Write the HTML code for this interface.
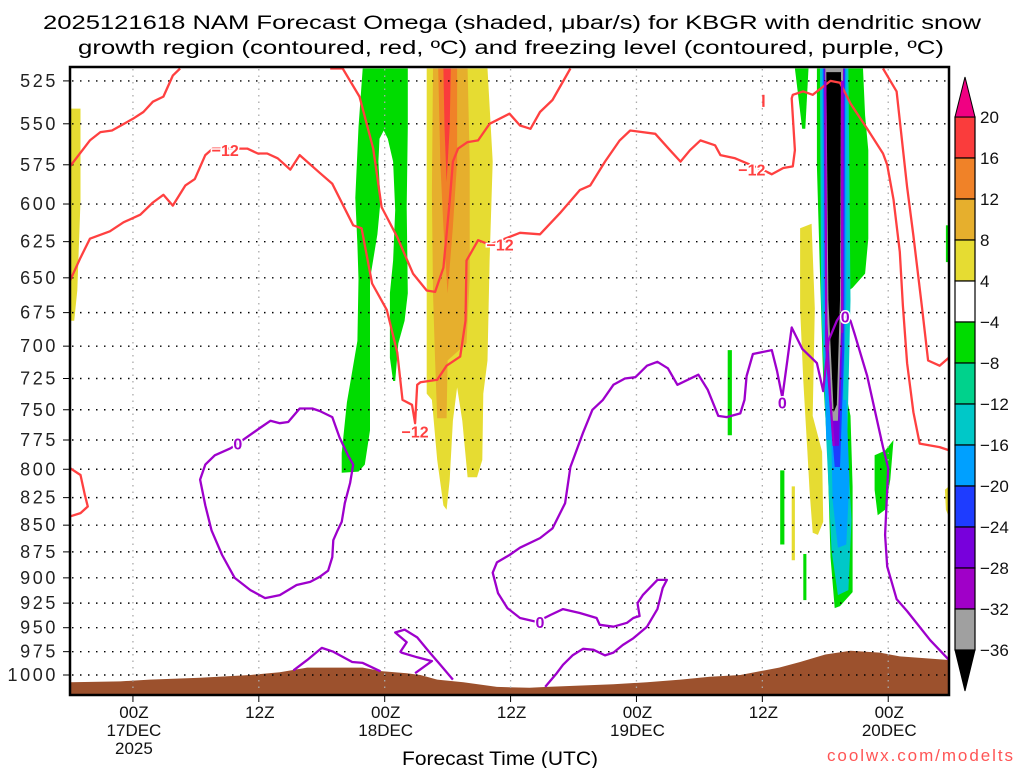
<!DOCTYPE html>
<html><head><meta charset="utf-8"><style>
html,body{margin:0;padding:0;background:#fff;}
svg{display:block;font-family:"Liberation Sans",sans-serif;}
</style></head><body>
<svg id="chart" width="1024" height="768" viewBox="0 0 1024 768" xmlns="http://www.w3.org/2000/svg">
<text x="512" y="29" text-anchor="middle" font-size="19" textLength="938" lengthAdjust="spacingAndGlyphs">2025121618 NAM Forecast Omega (shaded, μbar/s) for KBGR with dendritic snow</text>
<text x="511" y="54" text-anchor="middle" font-size="19" textLength="866" lengthAdjust="spacingAndGlyphs">growth region (contoured, red, ºC) and freezing level (contoured, purple, ºC)</text>
<defs><clipPath id="plotclip"><rect x="70" y="67" width="879" height="628"/></clipPath></defs>
<g id="shade" clip-path="url(#plotclip)"></g>
<g id="terrain" clip-path="url(#plotclip)"></g>
<g id="grid"></g>
<g id="contours" clip-path="url(#plotclip)"></g>
<g id="axes"></g>
<g id="cbar"></g>
<text x="500" y="765" text-anchor="middle" font-size="19" textLength="196" lengthAdjust="spacingAndGlyphs">Forecast Time (UTC)</text>
<text x="1013" y="761" text-anchor="end" font-size="17" fill="#ff5555" textLength="186" lengthAdjust="spacing">coolwx.com/modelts</text>
</svg>
<script>
// ---- axis data ----
const pressureLevels = [525,550,575,600,625,650,675,700,725,750,775,800,825,850,875,900,925,950,975,1000];
const timeTickHours = [6,18,30,42,54,66,78];
const timeTickLine1 = ["00Z","12Z","00Z","12Z","00Z","12Z","00Z"];
const timeTickLine2 = ["17DEC","","18DEC","","19DEC","","20DEC"];
const timeTickLine3 = ["2025","","","","","",""];
const cbarValues = [20,16,12,8,4,-4,-8,-12,-16,-20,-24,-28,-32,-36];
const cbarColors = ["#fa3c3c","#f08228","#e6af2d","#e6dc32","#ffffff","#00dc00","#00d28c","#00c8c8","#00a0ff","#1e3cff","#7800dc","#a000c8","#a0a0a0"];

// ---- surface (terrain) pressure by hour ----
const sfcHours = [0,4.8,7.6,12.4,17.2,20,22.6,27.9,29.8,32.1,33.4,35,37.5,40.7,43.8,45.5,51.8,55,58.2,61,63.9,67.6,69.6,72,74.4,77.2,79.1,84];
const sfcPres  = [1008,1007,1005,1003,1000,997,992,992,996,998,1000,1005,1008,1013,1014,1013,1010,1008,1005,1002,1000,992,986,978,974,976,980,984];

// ---- shaded omega regions [hour, hPa] ----
const yellowLeft = [[0,541],[1,541],[1,598],[0.7,659],[0.4,681],[0,681]];
const yellowMid = [[34,518],[39.8,518],[40.3,573],[40,638],[39.8,711],[39.4,737],[39.3,792],[38.8,807],[37.9,807],[37.4,759],[36.9,732],[36.5,759],[36.2,809],[35.9,836],[35.6,832],[35,792],[34.5,742],[34,737],[34,598]];
const goldMid = [[34.6,518],[37.9,518],[38.1,573],[38.1,650],[37.8,698],[36,711],[35.9,757],[35,757],[34.8,711],[34.6,661],[34.5,593]];
const orangeMid = [[35.1,518],[36.9,518],[36.9,573],[36.5,615],[36,661],[35.6,615],[35.3,573]];
const redMid = [[35.6,518],[36.3,518],[36.2,552],[35.9,586],[35.7,552]];
const yellowRight = [[69.6,616],[70.7,613],[71,672],[70.8,755],[71.7,785],[71.8,847],[71.3,859],[70.8,857],[70.5,818],[70.3,785],[69.9,727],[69.6,672]];
const yellowSliver = [[68.8,815],[69.1,815],[69.1,883],[68.8,883]];
const yellowEdge = [[83.4,818],[83.9,814],[83.9,845],[83.5,836]];
const greenMid = [[27.9,518],[32.2,518],[32.2,552],[32.1,602],[32.2,661],[31.9,681],[31.3,698],[31,727],[30.8,727],[30.5,709],[30.5,661],[30.8,638],[31,604],[30.8,573],[30.3,559],[29.9,554],[29.5,559],[29.4,573],[29.6,598],[29.3,620],[28.6,651],[28.6,711],[28.6,767],[28.1,796],[27.5,802],[25.9,803],[25.9,786],[26.4,744],[27.4,696],[27.5,651],[27.4,627],[27.2,596],[27.5,552]];
const greenColumn = [[71.2,518],[75.6,518],[75.8,545],[76.1,566],[76.1,623],[75.8,647],[74.6,657],[73.7,662],[73.7,726],[74.4,755],[74.6,815],[74.6,914],[73.4,928],[72.9,930],[72.5,880],[72.2,784],[71.8,726],[71.5,647],[71.2,576]];
const greenSpike = [[69.1,518],[70.4,518],[70.1,553],[69.8,553]];
const greenS1 = [[62.7,703],[63.1,703],[63.1,771],[62.7,771]];
const greenS2 = [[67.7,801],[68.1,801],[68.1,868],[67.7,868]];
const greenS3 = [[69.9,877],[70.2,877],[70.2,922],[69.9,922]];
const greenS4 = [[76.7,788],[77.7,784],[78.5,775],[78.2,809],[77.7,836],[77,841],[76.7,818]];
const greenEdge = [[83.5,614],[83.9,614],[83.9,639],[83.5,639]];
const cyanColumn = [[71.5,518],[74.2,518],[74.4,666],[74.1,775],[74.5,845],[74.2,912],[73.2,917],[72.6,874],[72.1,775],[71.6,666]];
const ltblueLower = [[72.5,742],[74,742],[74.3,809],[74,868],[73.2,871],[72.7,827]];
const ltblueColumn = [[71.7,518],[74,518],[74,666],[73.6,775],[72.1,775],[71.8,666]];
const blueColumn = [[71.8,518],[73.9,518],[73.8,703],[73.4,798],[72.9,798],[72,703]];
const purpleColumn = [[71.9,518],[73.8,518],[73.7,680],[73.3,780],[72.8,780],[72.1,680]];
const grayColumn = [[72,518],[73.7,518],[73.6,666],[73.2,759],[72.7,759],[72.1,666]];
const blackColumn = [[72.1,520],[73.5,520],[73.4,666],[73.1,746],[72.8,752],[72.3,666]];

// ---- -12 C contours (red) ----
const redA = [[0,576],[1.9,560],[2.9,555],[4,554],[6,547],[7,543],[7.9,537],[8.9,534],[9.8,522],[10.5,518]];
const redB = [[0,652],[1,636],[1.9,623],[3.8,618],[5.1,612],[6.7,607],[7.9,599],[8.9,594],[9.8,601],[11,588],[11.9,584],[12.9,569],[13.6,565],[16.9,565],[17.9,568],[18.8,568],[19.8,571],[21,578],[21.9,569],[23.8,580],[25,587],[27,614],[27.8,616],[28.8,654],[30.2,673],[31.2,705],[31.7,742],[32.6,746],[32.9,761],[33.1,730],[33.4,728],[35,726],[35.9,715],[37.2,708],[37.7,681],[37.8,638],[38.9,624],[40,627],[42.9,619],[44.8,620],[46.7,606],[48.6,591],[49.6,588],[51,573],[52.4,560],[53.4,554],[55.8,556],[57.2,566],[58.2,573],[59.1,566],[60.1,560],[61.5,563],[62,569],[63.4,571],[66.3,579],[66.9,581],[68,577],[68.9,576],[69.1,566],[68.8,535],[68.9,533],[69.9,531],[70.8,533],[72.5,525],[73.4,526],[74.4,538],[76,553],[77.5,568],[77.9,575],[78.5,597],[79.1,632],[79.4,670],[79.8,713],[80.4,752],[81,778],[82.9,781],[83.9,784]];
const redD = [[24.8,518],[26,518],[27.6,534],[28.9,565],[29.7,602],[31.2,622],[32.7,647],[34,659],[34.8,660],[35.6,643],[36.2,598],[36.5,573],[37,565],[37.9,561],[38.9,560],[40,550],[41.9,544],[42.9,551],[43.9,553],[44.8,543],[46,536],[47.7,518]];
const redE = [[77.5,518],[78.8,531],[79.8,589],[80.4,621],[81.2,670],[81.8,711],[82.9,715],[83.9,708]];
const redF = [[0,799],[1,805],[1.4,822],[1.7,833],[1,839],[0,842]];
const redG = [[66.1,533],[66.1,540]];
const redLabels = [[14.8,566],[32.9,768],[41,627],[65,578]];

// ---- 0 C contours (purple) ----
const purA = [[16,778],[18.1,765],[19.1,759],[20,761],[20.8,760],[21.9,749],[23.1,749],[23.8,751],[25,756],[25.7,773],[26.5,788],[27,796],[26.7,812],[26.2,830],[25.9,847],[25.5,855],[25.1,864],[25,880],[24.6,893],[23.8,899],[22.9,904],[21.6,907],[20,917],[18.6,920],[17.2,912],[15.7,900],[14.5,878],[13.5,855],[12.9,832],[12.4,809],[12.9,796],[13.8,788],[15.3,782],[16,778]];
const purB = [[83.9,985],[82,963],[79.8,933],[78.8,921],[77.9,889],[77.7,859],[78,799],[77.5,781],[76,723],[74.8,691],[74.4,681],[73.7,674],[73.1,681],[72.3,696],[71.8,735],[71.2,713],[69.8,702],[68.8,686],[68.4,710],[67.9,740],[67.4,719],[66.9,703],[65.1,706],[64.5,723],[64.3,742],[63.9,753],[62.6,756],[61.8,755],[60.8,734],[59.9,722],[57.9,730],[57,717],[56,712],[55,715],[53.9,724],[52.9,725],[51.8,730],[50.8,742],[49.8,750],[48.9,769],[47.7,798],[47.2,830],[46,853],[44.8,862],[42.9,871],[41.9,878],[40.7,885],[40.3,895],[40.8,915],[41.7,930],[42.9,940],[44.5,944],[45.8,937],[47,931],[48.6,935],[50.2,940],[50.5,947],[51.8,949],[53.1,945],[53.7,940],[54.3,938],[54.1,925],[54.6,917],[56,902],[56.9,902],[56.5,910],[56,931],[55,949],[53.7,961],[52.7,968],[51.8,976],[51,979],[49.9,973],[48.9,972],[47.9,979],[47,989],[46.4,998],[45.3,1013]];
const purC = [[21.3,995],[22.6,984],[24,971],[25.1,975],[26.9,986],[27.9,987],[29.6,996]];
const purD = [[32.9,998],[34.5,985],[33.1,981],[31.6,976],[31.5,975],[32.1,965],[31,955],[31.9,952],[33.1,960],[34.3,976],[35.3,989],[36.5,1005]];
const purColL = [[72.0,525],[72.1,700],[72.8,780]];
const purColR = [[73.6,525],[73.6,690]];
const purLabels = [[16,778],[44.8,944],[67.9,744],[73.9,678]];

// ---- axis functions ----
const NS = "http://www.w3.org/2000/svg";
function x(h){ return 70 + h*10.49; }
function y(p){ return 675 - 922*Math.log(1000/p); }
function mk(tag, attrs, parent){
  const e = document.createElementNS(NS, tag);
  for (const k in attrs) e.setAttribute(k, attrs[k]);
  parent.appendChild(e); return e;
}
function pts(arr){ return arr.map(d => x(d[0]).toFixed(1)+","+y(d[1]).toFixed(1)).join(" "); }

const shade = document.getElementById("shade");
const shadeList = [
  [yellowLeft,"#e6dc32","shade-yellow-left"],[yellowMid,"#e6dc32","shade-yellow-mid"],[goldMid,"#e6af2d","shade-gold-mid"],
  [orangeMid,"#f08228","shade-orange-mid"],[redMid,"#fa3c3c","shade-red-mid"],[yellowRight,"#e6dc32","shade-yellow-right"],
  [yellowSliver,"#e6dc32","shade-yellow-sliver"],[yellowEdge,"#e6dc32","shade-yellow-edge"],
  [greenMid,"#00dc00","shade-green-mid"],[greenColumn,"#00dc00","shade-green-column"],[greenSpike,"#00dc00","shade-green-spike"],
  [greenS1,"#00dc00","shade-green-sliver1"],[greenS2,"#00dc00","shade-green-sliver2"],[greenS3,"#00dc00","shade-green-sliver3"],
  [greenS4,"#00dc00","shade-green-sliver4"],[greenEdge,"#00dc00","shade-green-edge"],
  [cyanColumn,"#00c8c8","shade-cyan-column"],[ltblueLower,"#00a0ff","shade-lightblue-lower"],[ltblueColumn,"#00a0ff","shade-lightblue-column"],
  [blueColumn,"#1e3cff","shade-blue-column"],[purpleColumn,"#7800dc","shade-purple-column"],[grayColumn,"#a0a0a0","shade-gray-column"],[blackColumn,"#000000","shade-black-column"]
];
shadeList.forEach(s => {
  const el = mk("polygon", {points: pts(s[0]), fill: s[1]}, shade);
  
  
});

// terrain area
const terr = document.getElementById("terrain");
let d = "M70,695 ";
for (let i=0;i<sfcHours.length;i++){
  d += "L" + x(sfcHours[i]).toFixed(1) + "," + y(sfcPres[i]).toFixed(1) + " ";
}
d += "L949,695 Z";
const tp = mk("path", {d: d, fill: "#9c512d"}, terr);



// grid
const grid = document.getElementById("grid");
pressureLevels.forEach(p => {
  const l = mk("line", {x1:72, x2:947, y1:y(p), y2:y(p), stroke:"#000", "stroke-width":1.4, "stroke-dasharray":"1.5 6.5"}, grid);
  
  
});
timeTickHours.forEach(h => {
  const l = mk("line", {x1:x(h), x2:x(h), y1:69, y2:693, stroke:"#aaa", "stroke-width":1.3, "stroke-dasharray":"1.5 5"}, grid);
  
  
});

// contours
const cg = document.getElementById("contours");
const redList = [[redA,"red-contour-a"],[redB,"red-contour-b"],[redD,"red-contour-d"],[redE,"red-contour-e"],[redF,"red-contour-f"],[redG,"red-contour-g"]];
redList.forEach(c => {
  const el = mk("polyline", {points: pts(c[0]), fill:"none", stroke:"#ff4040", "stroke-width":2.3, "stroke-linejoin":"round"}, cg);
  
  
});
const purList = [[purA,"purple-contour-a"],[purB,"purple-contour-b"],[purC,"purple-contour-c"],[purD,"purple-contour-d"],[purColL,"purple-contour-col-left"],[purColR,"purple-contour-col-right"]];
purList.forEach(c => {
  const el = mk("polyline", {points: pts(c[0]), fill:"none", stroke:"#9e00cc", "stroke-width":2.3, "stroke-linejoin":"round"}, cg);
  
  
});
redLabels.forEach(l => {
  const t = mk("text", {x:x(l[0]), y:y(l[1])+6, "text-anchor":"middle", "font-size":16, "font-weight":"bold", fill:"#ff4040", stroke:"#fff", "stroke-width":3, "paint-order":"stroke"}, cg);
  t.textContent = "−12";
  
  
});
purLabels.forEach(l => {
  const t = mk("text", {x:x(l[0]), y:y(l[1])+6, "text-anchor":"middle", "font-size":16, "font-weight":"bold", fill:"#9e00cc", stroke:"#fff", "stroke-width":3, "paint-order":"stroke"}, cg);
  t.textContent = "0";
  
  
});

// axes
const ax = document.getElementById("axes");
const frame = mk("rect", {x:70, y:67, width:879, height:628, fill:"none", stroke:"#000", "stroke-width":2.5}, ax);


pressureLevels.forEach(p => {
  const tk = mk("line", {x1:63, x2:70, y1:y(p), y2:y(p), stroke:"#000", "stroke-width":1}, ax);
  
  
  const t = mk("text", {x:58, y:y(p)+6, "text-anchor":"end", "font-size":18, "letter-spacing":"2.6", fill:"#222"}, ax);
  t.textContent = p;
  
  
});
timeTickHours.forEach((h,i) => {
  const tk = mk("line", {x1:x(h), x2:x(h), y1:695, y2:702, stroke:"#000", "stroke-width":1}, ax);
  
  
  [[timeTickLine1[i],718],[timeTickLine2[i],736],[timeTickLine3[i],754]].forEach(s => {
    if (!s[0]) return;
    const t = mk("text", {x:x(h)+1, y:s[1], "text-anchor":"middle", "font-size":17, fill:"#111"}, ax);
    t.textContent = s[0];
    
    
  });
});

// colorbar
const cb = document.getElementById("cbar");
const boxH = 41, cbTop = 117;
cbarColors.forEach((c,i) => {
  const r = mk("rect", {x:955, y:cbTop+i*boxH, width:20, height:boxH, fill:c, stroke:"#000", "stroke-width":1.2}, cb);
  
  
});
const triT = mk("polygon", {points:"955,117 975,117 965,77", fill:"#f00082", stroke:"#000", "stroke-width":1}, cb);


const bottomY = cbTop + cbarColors.length*boxH;
const triB = mk("polygon", {points:"955,"+bottomY+" 975,"+bottomY+" 965,"+(bottomY+41), fill:"#000", stroke:"#000", "stroke-width":1}, cb);


cbarValues.forEach((v,i) => {
  const t = mk("text", {x:980, y:cbTop+i*boxH+6, "font-size":17, fill:"#111"}, cb);
  t.textContent = v < 0 ? "−" + Math.abs(v) : String(v);
  
  
});
</script>
</body></html>
